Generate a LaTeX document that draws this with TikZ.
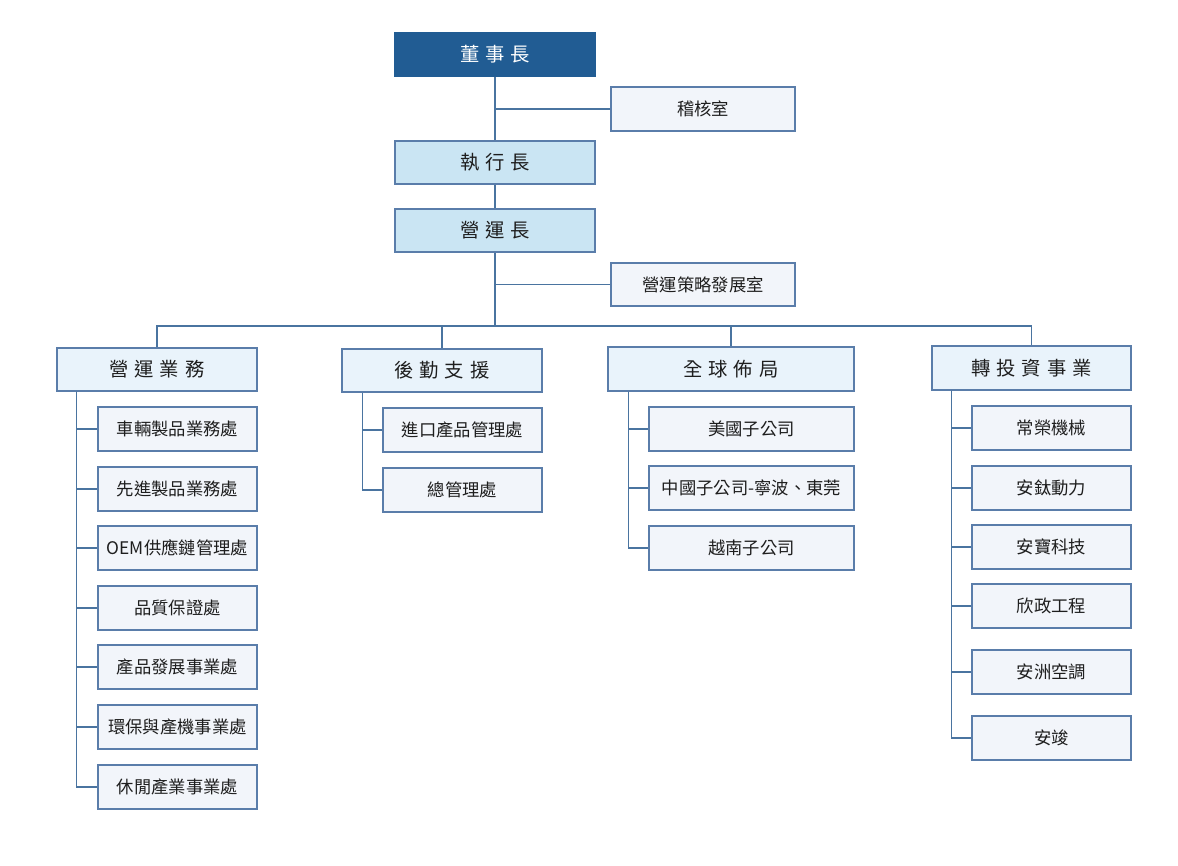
\documentclass[tikz,border=0pt]{standalone}
\usepackage{fontspec}
\setmainfont{Noto Sans CJK TC}
\definecolor{darkblue}{HTML}{215C93}
\definecolor{lightblue}{HTML}{CAE5F3}
\definecolor{lvltwo}{HTML}{E9F3FB}
\definecolor{leaf}{HTML}{F2F5FA}
\definecolor{edge}{HTML}{5A7DAA}
\definecolor{conn}{HTML}{4A74A0}
\definecolor{txt}{HTML}{1E1E1E}
\newcommand{\gapsp}{\hspace{4.5pt}}
\newcommand{\bx}[7]{\node[#2, minimum width={(#5-#3)*0.75pt}, minimum height={(#6-#4)*0.75pt}] (#1) at ({(#3+#5)/2},{(#4+#6)/2}) {#7};}
\tikzset{
  base/.style={draw=edge, line width=1.1pt, inner sep=0pt, text=txt},
  topbox/.style={base, fill=darkblue, draw=darkblue, text=white, font=\fontsize{14.5}{16}\selectfont},
  midbox/.style={base, fill=lightblue, font=\fontsize{14.5}{16}\selectfont},
  secbox/.style={base, fill=lvltwo, font=\fontsize{14.5}{16}\selectfont},
  leafbox/.style={base, fill=leaf, font=\fontsize{13}{15}\selectfont},
  link/.style={draw=conn, line width=1.1pt}
}
\begin{document}
\begin{tikzpicture}[x=0.75pt,y=-0.75pt]
\useasboundingbox (0,0) rectangle (1178,866);
% top chain
\bx{chair}{topbox}{395}{33}{595}{76}{董\gapsp 事\gapsp 長}
\bx{audit}{leafbox}{611}{87}{795}{131}{稽核室}
\bx{ceo}{midbox}{395}{141}{595}{184}{執\gapsp 行\gapsp 長}
\bx{coo}{midbox}{395}{209}{595}{252}{營\gapsp 運\gapsp 長}
\bx{strat}{leafbox}{611}{263}{795}{306}{營運策略發展室}
\coordinate (bus) at (495,326);
% level 2
\bx{ops}{secbox}{57}{348}{257}{391}{營\gapsp 運\gapsp 業\gapsp 務}
\bx{log}{secbox}{342}{349}{542}{392}{後\gapsp 勤\gapsp 支\gapsp 援}
\bx{glob}{secbox}{608}{347}{854}{391}{全\gapsp 球\gapsp 佈\gapsp 局}
\bx{inv}{secbox}{932}{346}{1131}{390}{轉\gapsp 投\gapsp 資\gapsp 事\gapsp 業}
% ops children
\bx{o1}{leafbox}{98}{407}{257}{451}{車輛製品業務處}
\bx{o2}{leafbox}{98}{467}{257}{511}{先進製品業務處}
\bx{o3}{leafbox}{98}{526}{257}{570}{OEM供應鏈管理處}
\bx{o4}{leafbox}{98}{586}{257}{630}{品質保證處}
\bx{o5}{leafbox}{98}{645}{257}{689}{產品發展事業處}
\bx{o6}{leafbox}{98}{705}{257}{749}{環保與產機事業處}
\bx{o7}{leafbox}{98}{765}{257}{809}{休閒產業事業處}
% log children
\bx{l1}{leafbox}{383}{408}{542}{452}{進口產品管理處}
\bx{l2}{leafbox}{383}{468}{542}{512}{總管理處}
% glob children
\bx{g1}{leafbox}{649}{407}{854}{451}{美國子公司}
\bx{g2}{leafbox}{649}{466}{854}{510}{中國子公司-寧波、東莞}
\bx{g3}{leafbox}{649}{526}{854}{570}{越南子公司}
% inv children
\bx{i1}{leafbox}{972}{406}{1131}{450}{常榮機械}
\bx{i2}{leafbox}{972}{466}{1131}{510}{安鈦動力}
\bx{i3}{leafbox}{972}{525}{1131}{569}{安寶科技}
\bx{i4}{leafbox}{972}{584}{1131}{628}{欣政工程}
\bx{i5}{leafbox}{972}{650}{1131}{694}{安洲空調}
\bx{i6}{leafbox}{972}{716}{1131}{760}{安竣}
% connectors
\draw[link] (chair.south) -- (ceo.north);
\draw[link] (ceo.south) -- (coo.north);
\draw[link] (coo.south) -- (bus);
\draw[link] (audit.west) -- (audit.west -| chair.south);
\draw[link] (strat.west) -- (strat.west -| coo.south);
\draw[link] (bus) -| (ops.north);
\draw[link] (bus) -| (log.north);
\draw[link] (bus) -| (glob.north);
\draw[link] (bus) -| (inv.north);
\foreach \c in {o1,o2,o3,o4,o5,o6,o7}{\draw[link] ([xshift=15pt]ops.south west) |- (\c.west);}
\foreach \c in {l1,l2}{\draw[link] ([xshift=15.75pt]log.south west) |- (\c.west);}
\foreach \c in {g1,g2,g3}{\draw[link] ([xshift=15.75pt]glob.south west) |- (\c.west);}
\foreach \c in {i1,i2,i3,i4,i5,i6}{\draw[link] ([xshift=15pt]inv.south west) |- (\c.west);}
\end{tikzpicture}
\end{document}
